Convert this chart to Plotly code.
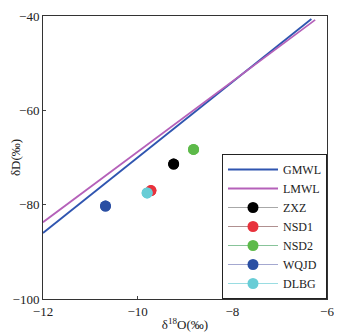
import numpy as np
import plotly.graph_objects as go

# Meteoric water lines: dD = slope * d18O + intercept
line_names = ["GMWL", "LMWL"]
line_slopes = [8.0, 7.46]
line_intercepts = [10.0, 5.8]
line_x_start = [-12.0, -12.0]
line_x_end = [-6.33, -6.25]
line_colors = ["#2f55b0", "#b561b9"]

# Sample points
sample_names = ["ZXZ", "NSD1", "NSD2", "WQJD", "DLBG"]
sample_d18O = [-9.24, -9.72, -8.82, -10.68, -9.80]
sample_dD = [-71.4, -77.0, -68.3, -80.3, -77.5]
sample_colors = ["#000000", "#e8323c", "#5dba4a", "#2a4fa3", "#68cdd6"]
sample_line_colors = ["#a8a8a8", "#b09090", "#88c49a", "#a4a8d0", "#9adde2"]

x_ticks = [-12, -10, -8, -6]
y_ticks = [-100, -80, -60, -40]

fig = go.Figure()

for name, s, b, x0, x1, c in zip(line_names, line_slopes, line_intercepts,
                                 line_x_start, line_x_end, line_colors):
    xs = np.array([x0, x1])
    fig.add_trace(go.Scatter(x=xs, y=s * xs + b, mode="lines", name=name,
                             line=dict(color=c, width=1.8)))

for i in range(len(sample_names)):
    # the point is repeated so that the legend shows its line segment
    fig.add_trace(go.Scatter(x=[sample_d18O[i]] * 2, y=[sample_dD[i]] * 2,
                             mode="lines+markers", name=sample_names[i],
                             marker=dict(color=sample_colors[i], size=11),
                             line=dict(color=sample_line_colors[i], width=1)))

serif = "Liberation Serif, Times New Roman, serif"
# the page body has an 8px margin, so the figure is sized to fit inside the window
fig.update_layout(
    width=334, height=324,
    margin=dict(l=35, r=15, t=8, b=33),
    paper_bgcolor="white", plot_bgcolor="white",
    font=dict(family=serif, size=13, color="#222"),
    showlegend=True,
    legend=dict(x=1, y=0, xanchor="right", yanchor="bottom",
                bordercolor="#222", borderwidth=1, bgcolor="white",
                font=dict(family=serif, size=12, color="#222"),
                tracegroupgap=0, itemwidth=50),
)
fig.update_xaxes(range=[-12, -6], tickvals=x_ticks, ticks="inside", ticklen=3,
                 showline=True, linecolor="#333", linewidth=1, mirror=True,
                 showgrid=False, zeroline=False, automargin=False,
                 title=dict(text="δ<sup>18</sup>O(‰)", standoff=2,
                            font=dict(family=serif, size=13)))
fig.update_yaxes(range=[-100, -40], tickvals=y_ticks, ticks="inside", ticklen=3,
                 showline=True, linecolor="#333", linewidth=1, mirror=True,
                 showgrid=False, zeroline=False, automargin=False,
                 title=dict(text="δD(‰)", standoff=0,
                            font=dict(family=serif, size=13)))

fig.write_html("out.html")
